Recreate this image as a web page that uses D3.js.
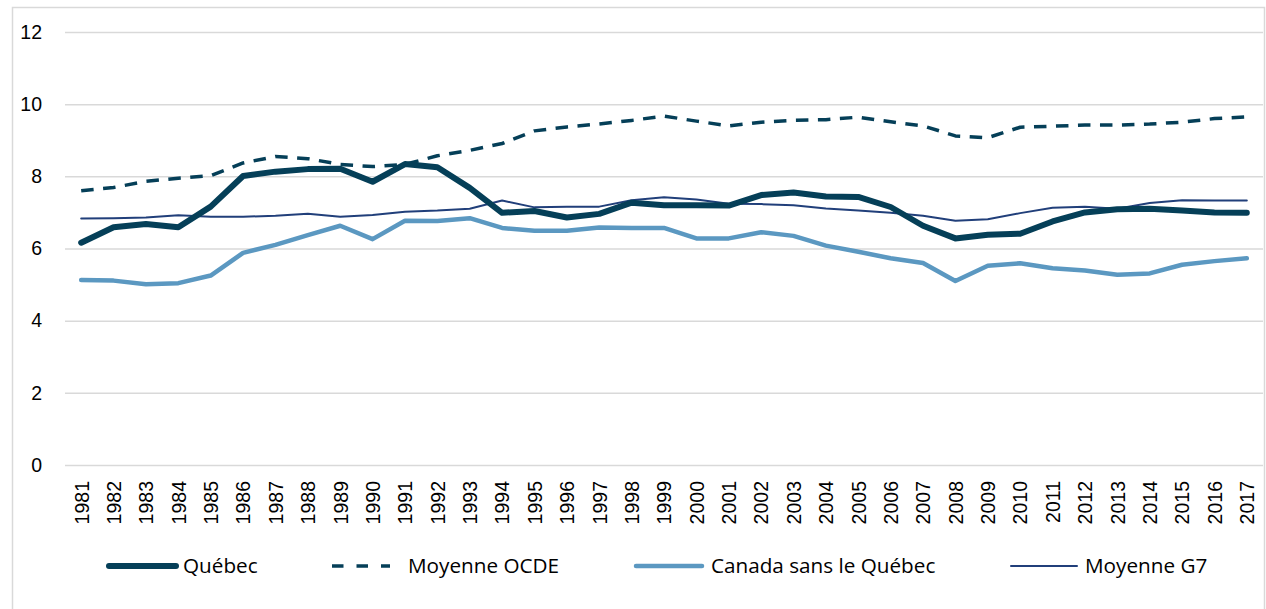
<!DOCTYPE html>
<html>
<head>
<meta charset="utf-8">
<style>
  body { margin: 0; background: #fff; }
  svg { display: block; font-family: "Open Sans", sans-serif; }
</style>
</head>
<body>
<svg id="chart"></svg>
<script src="https://d3js.org/d3.v7.min.js"></script>
<script>
  const years = d3.range(1981, 2018).map(String);

  const quebec = [6.16, 6.59, 6.68, 6.59, 7.16, 8.01, 8.13, 8.2, 8.21, 7.85, 8.34, 8.25, 7.68,
    6.99, 7.04, 6.86, 6.96, 7.27, 7.2, 7.2, 7.19, 7.48, 7.55, 7.44, 7.43, 7.15, 6.63,
    6.28, 6.38, 6.41, 6.75, 7.0, 7.09, 7.1, 7.05, 7.0, 6.99];
  const ocde = [7.6, 7.69, 7.86, 7.95, 8.02, 8.37, 8.55, 8.49, 8.33, 8.27, 8.33, 8.57, 8.72,
    8.91, 9.26, 9.37, 9.45, 9.55, 9.67, 9.53, 9.4, 9.5, 9.55, 9.57, 9.64, 9.51, 9.4,
    9.12, 9.07, 9.36, 9.39, 9.42, 9.42, 9.45, 9.5, 9.6, 9.65];
  const canada = [5.13, 5.11, 5.01, 5.04, 5.25, 5.88, 6.1, 6.37, 6.63, 6.26, 6.77, 6.76, 6.84,
    6.57, 6.49, 6.49, 6.58, 6.57, 6.57, 6.28, 6.28, 6.45, 6.35, 6.08, 5.91, 5.73, 5.6,
    5.1, 5.52, 5.59, 5.45, 5.39, 5.27, 5.31, 5.55, 5.65, 5.73];
  const g7 = [6.83, 6.84, 6.86, 6.92, 6.88, 6.88, 6.91, 6.96, 6.88, 6.93, 7.02, 7.05, 7.1,
    7.33, 7.14, 7.16, 7.16, 7.34, 7.42, 7.36, 7.24, 7.23, 7.2, 7.11, 7.05, 6.99, 6.91,
    6.77, 6.81, 6.98, 7.13, 7.16, 7.1, 7.26, 7.34, 7.33, 7.33];

  const yTicks = [0, 2, 4, 6, 8, 10, 12];

  const series = [
    { name: "Québec", values: quebec, color: "#053f58", width: 6, dash: null },
    { name: "Moyenne OCDE", values: ocde, color: "#053f58", width: 3.5, dash: "12.5 9.5" },
    { name: "Canada sans le Québec", values: canada, color: "#5b98c1", width: 4.5, dash: null },
    { name: "Moyenne G7", values: g7, color: "#213f7a", width: 2, dash: null }
  ];

  const width = 1266;
  const height = 609;
  const marginLeft = 65;
  const marginRight = 3;
  const marginTop = 32;
  const plotBottom = 465;

  const svg = d3.select("#chart")
    .attr("width", width)
    .attr("height", height)
    .attr("viewBox", [0, 0, width, height]);

  // chart frame
  svg.append("path")
    .attr("d", `M12.5,${height} V7.5 H1264.5 V${height}`)
    .attr("fill", "none")
    .attr("stroke", "#d9d9d9")
    .attr("stroke-width", 1.5);

  const x = d3.scalePoint()
    .domain(years)
    .range([marginLeft, width - marginRight])
    .padding(0.5);

  const y = d3.scaleLinear()
    .domain([0, 12])
    .range([plotBottom, marginTop]);

  // horizontal gridlines + y labels
  svg.append("g")
    .attr("transform", `translate(${marginLeft},0)`)
    .call(d3.axisLeft(y).tickValues(yTicks).tickSize(-(width - marginRight - marginLeft)).tickPadding(23))
    .call(g => g.select(".domain").remove())
    .call(g => g.selectAll(".tick line").attr("stroke", "#d9d9d9").attr("stroke-width", 1.5))
    .call(g => g.selectAll(".tick text").attr("font-size", 19.5).attr("fill", "#000"));

  // x labels, rotated
  svg.append("g")
    .attr("transform", `translate(0,${plotBottom})`)
    .call(d3.axisBottom(x).tickSize(0))
    .call(g => g.select(".domain").remove())
    .call(g => g.selectAll(".tick text")
      .attr("font-size", 19.5)
      .attr("fill", "#000")
      .attr("transform", "rotate(-90)")
      .attr("text-anchor", "end")
      .attr("x", -16)
      .attr("y", 0)
      .attr("dy", "0.35em"));

  const line = d3.line()
    .x((d, i) => x(years[i]))
    .y(d => y(d));

  // draw order: G7 below, then Canada, OCDE, Québec on top
  const drawOrder = [series[3], series[2], series[1], series[0]];
  svg.append("g")
    .selectAll("path")
    .data(drawOrder)
    .join("path")
    .attr("fill", "none")
    .attr("stroke", d => d.color)
    .attr("stroke-width", d => d.width)
    .attr("stroke-dasharray", d => d.dash)
    .attr("stroke-linejoin", "round")
    .attr("stroke-linecap", d => d.dash ? "butt" : "round")
    .attr("d", d => line(d.values));

  // legend
  const legendX = [109, 332, 636, 1011];
  const legendLen = [67, 58, 66, 66];
  const legendTextX = [74, 76, 75, 74];
  const legendY = 566;
  const legend = svg.append("g")
    .selectAll("g")
    .data(series)
    .join("g")
    .attr("transform", (d, i) => `translate(${legendX[i]},${legendY})`);

  legend.append("line")
    .attr("x1", 0)
    .attr("x2", (d, i) => legendLen[i])
    .attr("stroke", d => d.color)
    .attr("stroke-width", d => d.width)
    .attr("stroke-dasharray", d => d.dash ? "11.5 13" : null)
    .attr("stroke-linecap", d => d.dash ? "butt" : "round");

  legend.append("text")
    .attr("x", (d, i) => legendTextX[i])
    .attr("dy", "0.35em")
    .attr("font-size", 20.7)
    .attr("fill", "#000")
    .text(d => d.name);
</script>
</body>
</html>
